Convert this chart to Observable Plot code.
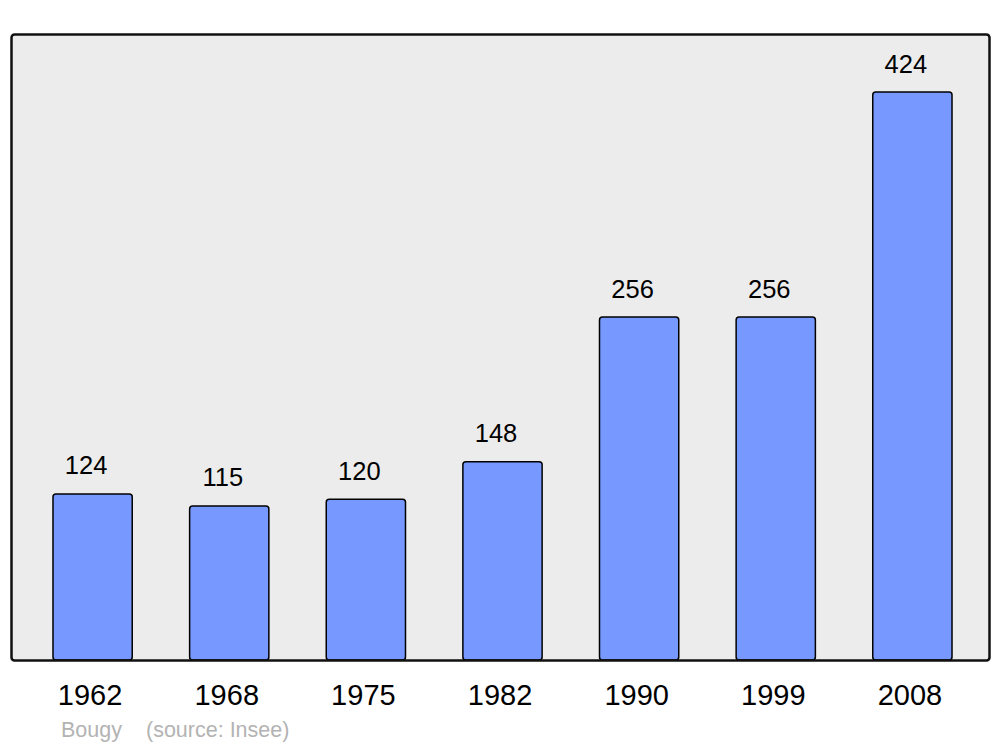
<!DOCTYPE html>
<html>
<head>
<meta charset="utf-8">
<script src="https://cdn.jsdelivr.net/npm/d3@7"></script>
<script src="https://cdn.jsdelivr.net/npm/@observablehq/plot@0.6"></script>
<style>
  html, body { margin: 0; padding: 0; background: #fff; }
  #wrap { position: relative; width: 1000px; height: 747px; font-family: "Liberation Sans", Arial, sans-serif; }
  #chart svg { display: block; }
  .cap { position: absolute; top: 717px; font-size: 21.5px; color: #b3b3b3; line-height: 26px; }
</style>
</head>
<body>
<div id="wrap">
  <div id="chart"></div>
  <span class="cap" style="left:61px">Bougy</span>
  <span class="cap" style="left:146px">(source: Insee)</span>
</div>
<script>
const years = ["1962", "1968", "1975", "1982", "1990", "1999", "2008"];
const population = [124, 115, 120, 148, 256, 256, 424];

const data = years.map((y, i) => ({year: y, pop: population[i]}));

const chart = Plot.plot({
  width: 1000,
  height: 712,
  marginTop: 34,
  marginBottom: 52,
  marginLeft: 11,
  marginRight: 11,
  style: {fontFamily: "'Liberation Sans', Arial, sans-serif", background: "transparent"},
  x: {type: "band", domain: years, range: [12, 993], paddingInner: 0.42, paddingOuter: 0.3, round: false, axis: null, label: null},
  y: {domain: [0, 467.3], axis: null},
  marks: [
    Plot.frame({fill: "#ececec", stroke: null}),
    Plot.barY(data, {x: "year", y: "pop", fill: "#7799ff", stroke: "black", strokeWidth: 1.5, rx: 3}),
    Plot.text(data, {x: "year", y: "pop", text: d => String(d.pop), lineAnchor: "bottom", dy: -20, dx: -7, fontSize: 25.5, fill: "black"}),
    Plot.axisX({tickSize: 0, tickPadding: 24, fontSize: 29, dx: -3, color: "black", label: null}),
    Plot.frame({fill: "none", stroke: "#111", strokeWidth: 2.5, rx: 3})
  ]
});
document.getElementById("chart").appendChild(chart);
</script>
</body>
</html>
